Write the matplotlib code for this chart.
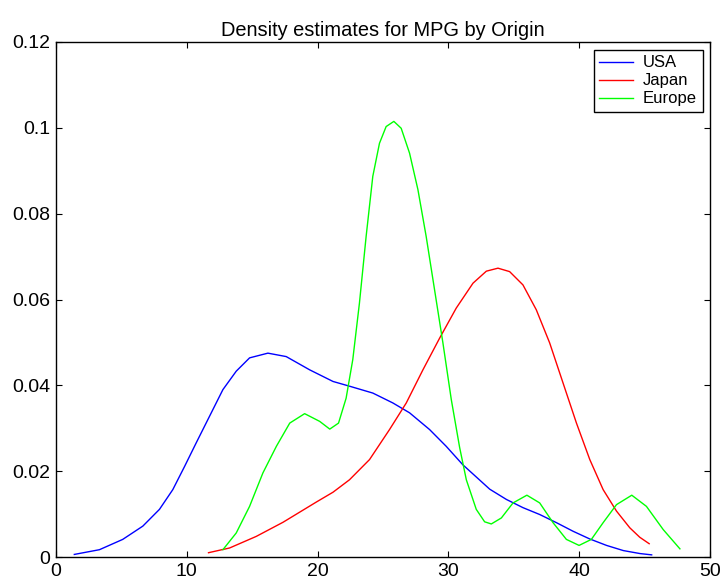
import matplotlib
matplotlib.use("Agg")
import matplotlib.pyplot as plt
from matplotlib.ticker import FuncFormatter

# Data
usa_x = [1.40, 3.32, 5.10, 6.64, 7.91, 8.93, 9.83, 10.72, 11.74, 12.76, 13.78,
         14.80, 16.20, 17.60, 19.40, 21.18, 22.44, 24.22, 25.75, 27.03, 28.56,
         29.83, 31.10, 33.16, 34.44, 35.70, 36.98, 38.26, 39.53, 40.81, 42.09,
         43.37, 44.65, 45.54]
usa_y = [0.0006, 0.0017, 0.0041, 0.0072, 0.0111, 0.0157, 0.0211, 0.0266,
         0.0328, 0.0390, 0.0433, 0.0464, 0.0475, 0.0467, 0.0436, 0.0409,
         0.0398, 0.0382, 0.0359, 0.0336, 0.0297, 0.0258, 0.0215, 0.0158,
         0.0134, 0.0115, 0.0099, 0.0080, 0.0060, 0.0042, 0.0027, 0.0015,
         0.0008, 0.0005]

japan_x = [11.66, 13.27, 15.31, 17.36, 19.90, 21.18, 22.44, 23.97, 25.50, 26.78,
           28.05, 29.33, 30.60, 31.88, 32.90, 33.79, 34.68, 35.70, 36.72, 37.74,
           38.77, 39.79, 40.81, 41.83, 42.85, 43.87, 44.63, 45.35]
japan_y = [0.0010, 0.0021, 0.0048, 0.0081, 0.0128, 0.0151, 0.0180, 0.0227,
           0.0297, 0.0359, 0.0436, 0.0510, 0.0580, 0.0638, 0.0666, 0.0673,
           0.0665, 0.0634, 0.0576, 0.0499, 0.0405, 0.0312, 0.0227, 0.0157,
           0.0107, 0.0068, 0.0046, 0.0031]

europe_x = [12.76, 13.78, 14.80, 15.82, 16.85, 17.87, 19.01, 20.16, 20.93, 21.60,
            22.18, 22.69, 23.20, 23.71, 24.22, 24.73, 25.24, 25.83, 26.39, 27.03,
            27.67, 28.30, 28.94, 29.58, 30.22, 30.86, 31.37, 32.13, 32.77, 33.28,
            34.05, 34.94, 36.00, 36.98, 38.00, 39.02, 39.99, 40.93, 41.83, 42.85,
            44.02, 45.14, 46.42, 47.70]
europe_y = [0.0017, 0.0056, 0.0118, 0.0196, 0.0258, 0.0312, 0.0334, 0.0316,
            0.0298, 0.0312, 0.0370, 0.0460, 0.0592, 0.0747, 0.0887, 0.0964,
            0.1003, 0.1015, 0.0999, 0.0941, 0.0856, 0.0747, 0.0623, 0.0499,
            0.0367, 0.0255, 0.0180, 0.0111, 0.0082, 0.0077, 0.0091, 0.0126,
            0.0144, 0.0126, 0.0080, 0.0041, 0.0027, 0.0041, 0.0080, 0.0122,
            0.0144, 0.0118, 0.0064, 0.0019]

series = ["USA", "Japan", "Europe"]
colors = ["#0000ff", "#ff0000", "#00ff00"]
x_ticks = [0, 10, 20, 30, 40, 50]
y_ticks = [0, 0.02, 0.04, 0.06, 0.08, 0.1, 0.12]
title = "Density estimates for MPG by Origin"

plt.rcParams['font.family'] = ['Liberation Sans', 'DejaVu Sans']

fig = plt.figure(figsize=(7.23, 5.85), dpi=100)
ax = fig.add_axes([56 / 723, 1 - 557 / 585, (710 - 56) / 723, (557 - 42) / 585])

for xs, ys, name, c in zip([usa_x, japan_x, europe_x], [usa_y, japan_y, europe_y],
                           series, colors):
    ax.plot(xs, ys, color=c, lw=1.0, label=name)

ax.set_xlim(0, 50)
ax.set_ylim(0, 0.12)
ax.set_xticks(x_ticks)
ax.set_yticks(y_ticks)
ax.yaxis.set_major_formatter(FuncFormatter(lambda v, p: ("%g" % round(v, 4))))
ax.tick_params(direction='in', length=4.5, width=0.8, top=True, right=True,
               labelsize=14, pad=4, colors='black')
for sp in ax.spines.values():
    sp.set_linewidth(1.0)
    sp.set_color('black')

ax.set_title(title, fontsize=14.4, pad=4)

leg = ax.legend(loc='upper right', fontsize=12, frameon=True, fancybox=False,
                edgecolor='black', framealpha=1, handlelength=2.0,
                borderaxespad=0.45, borderpad=0.35, labelspacing=0.18,
                handletextpad=0.6)
leg.get_frame().set_linewidth(1.0)

fig.savefig("out.png", dpi=100, facecolor='white')
